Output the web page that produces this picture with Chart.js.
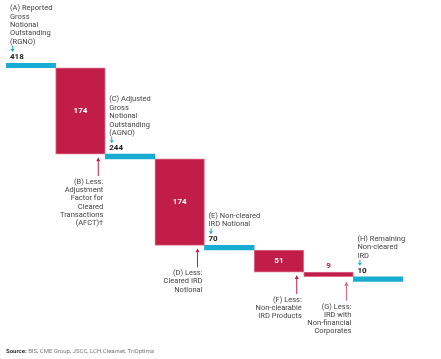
<!DOCTYPE html>
<html>
<head>
<meta charset="utf-8">
<script src="https://cdn.jsdelivr.net/npm/chart.js@4.4.0/dist/chart.umd.min.js"></script>
<style>
  html, body { margin: 0; padding: 0; background: #fff; }
  #wrap { width: 441px; height: 359px; position: relative; }
</style>
</head>
<body>
<div id="wrap"><canvas id="cascata"></canvas></div>
<script>
// dados
const categorias = ['A', 'B', 'C', 'D', 'E', 'F', 'G', 'H'];
const valores = [418, 174, 244, 174, 70, 51, 9, 10];
const tipos = ['total', 'less', 'total', 'less', 'total', 'less', 'less', 'total'];
const rotulos = [
  ['(A) Reported', 'Gross', 'Notional', 'Outstanding', '(RGNO)'],
  ['(B) Less:', 'Adjustment', 'Factor for', 'Cleared', 'Transactions', '(AFCT)†'],
  ['(C) Adjusted', 'Gross', 'Notional', 'Outstanding', '(AGNO)'],
  ['(D) Less:', 'Cleared IRD', 'Notional'],
  ['(E) Non-cleared', 'IRD Notional'],
  ['(F) Less:', 'Non-clearable', 'IRD Products'],
  ['(G) Less:', 'IRD with', 'Non-financial', 'Corporates'],
  ['(H) Remaining', 'Non-cleared', 'IRD']
];

const AZUL = '#19acd2';
const VERMELHO = '#c21d48';
const ESPESSURA = 9; // grossura das barras azuis em unidades

// monta as barras flutuantes a partir dos valores
function montarFaixas() {
  let nivel = valores[0];
  return valores.map((v, i) => {
    if (tipos[i] === 'total') {
      nivel = v;
      return [v - ESPESSURA, v];
    }
    const topo = tipos[i - 1] === 'total' ? nivel - ESPESSURA : nivel;
    const base = nivel - v;
    nivel = base;
    return [base, topo];
  });
}

const FONTE = '"Roboto", "Liberation Sans", sans-serif';

function seta(ctx, x, y1, y2, cor, cabeca) {
  // seta de y1 (ponta) a y2
  const dir = y2 > y1 ? 1 : -1;
  ctx.strokeStyle = cor;
  ctx.fillStyle = cor;
  ctx.lineWidth = 1;
  ctx.beginPath();
  ctx.moveTo(x, y1 + dir * cabeca);
  ctx.lineTo(x, y2);
  ctx.stroke();
  ctx.beginPath();
  ctx.moveTo(x, y1);
  ctx.lineTo(x - 2, y1 + dir * cabeca);
  ctx.lineTo(x + 2, y1 + dir * cabeca);
  ctx.closePath();
  ctx.fill();
}

const anotacoes = {
  id: 'anotacoes',
  afterDatasetsDraw(chart) {
    const ctx = chart.ctx;
    const barras = chart.getDatasetMeta(0).data;
    ctx.save();
    ctx.textBaseline = 'middle';
    barras.forEach((b, i) => {
      const esq = b.x - b.width / 2;
      const dir = b.x + b.width / 2;
      const topo = Math.min(b.y, b.base);
      const fundo = Math.max(b.y, b.base);
      const linhas = rotulos[i];
      if (tipos[i] === 'total') {
        // número e seta acima da barra azul
        ctx.font = 'bold 8px ' + FONTE;
        ctx.fillStyle = '#222';
        ctx.textAlign = 'left';
        ctx.fillText(String(valores[i]), esq + 4, topo - 6);
        seta(ctx, esq + 6.5, topo - 11, topo - 17, AZUL, 3);
        ctx.font = '7.5px ' + FONTE;
        ctx.fillStyle = '#444';
        linhas.forEach((t, k) => {
          ctx.fillText(t, esq + 4, topo - 21 - (linhas.length - 1 - k) * 8.4);
        });
      } else {
        // valor dentro (ou acima) da barra vermelha
        ctx.textAlign = 'center';
        ctx.font = 'bold 8px ' + FONTE;
        if (fundo - topo > 14) {
          ctx.fillStyle = '#fff';
          ctx.fillText(String(valores[i]), b.x, (topo + fundo) / 2);
        } else {
          ctx.fillStyle = VERMELHO;
          ctx.fillText(String(valores[i]), b.x, topo - 6);
        }
        // seta para cima e texto embaixo
        const inicio = fundo + (i === 6 ? 5 : 3);
        const fim = inicio + 19;
        seta(ctx, dir - 7, inicio, fim, i === 6 ? '#d45a7c' : VERMELHO, 4);
        ctx.font = '7.5px ' + FONTE;
        ctx.fillStyle = '#444';
        ctx.textAlign = 'right';
        linhas.forEach((t, k) => {
          ctx.fillText(t, dir - 2, fim + 6 + k * 8.2);
        });
      }
    });
    // fonte
    ctx.textAlign = 'left';
    ctx.font = 'bold 6px ' + FONTE;
    ctx.fillStyle = '#333';
    ctx.fillText('Source:', 6, 351);
    const w = ctx.measureText('Source: ').width;
    ctx.font = '6px ' + FONTE;
    ctx.fillStyle = '#777';
    ctx.fillText('BIS, CME Group, JSCC, LCH.Clearnet, TriOptima', 6 + w, 351);
    ctx.restore();
  }
};

new Chart(document.getElementById('cascata'), {
  type: 'bar',
  data: {
    labels: categorias,
    datasets: [{
      data: montarFaixas(),
      backgroundColor: tipos.map(t => t === 'total' ? AZUL : VERMELHO),
      borderColor: tipos.map(t => t === 'total' ? AZUL : '#dd6f8c'),
      borderWidth: tipos.map(t => t === 'total' ? 0 : 1),
      borderSkipped: false,
      barPercentage: 1,
      categoryPercentage: 1
    }]
  },
  options: {
    responsive: true,
    maintainAspectRatio: false,
    animation: false,
    layout: { padding: { left: 6, right: 38, top: 63, bottom: 77 } },
    plugins: {
      legend: { display: false },
      tooltip: { enabled: false }
    },
    scales: {
      x: { display: false },
      y: { display: false, min: 0, max: 418 }
    }
  },
  plugins: [anotacoes]
});
</script>
</body>
</html>
